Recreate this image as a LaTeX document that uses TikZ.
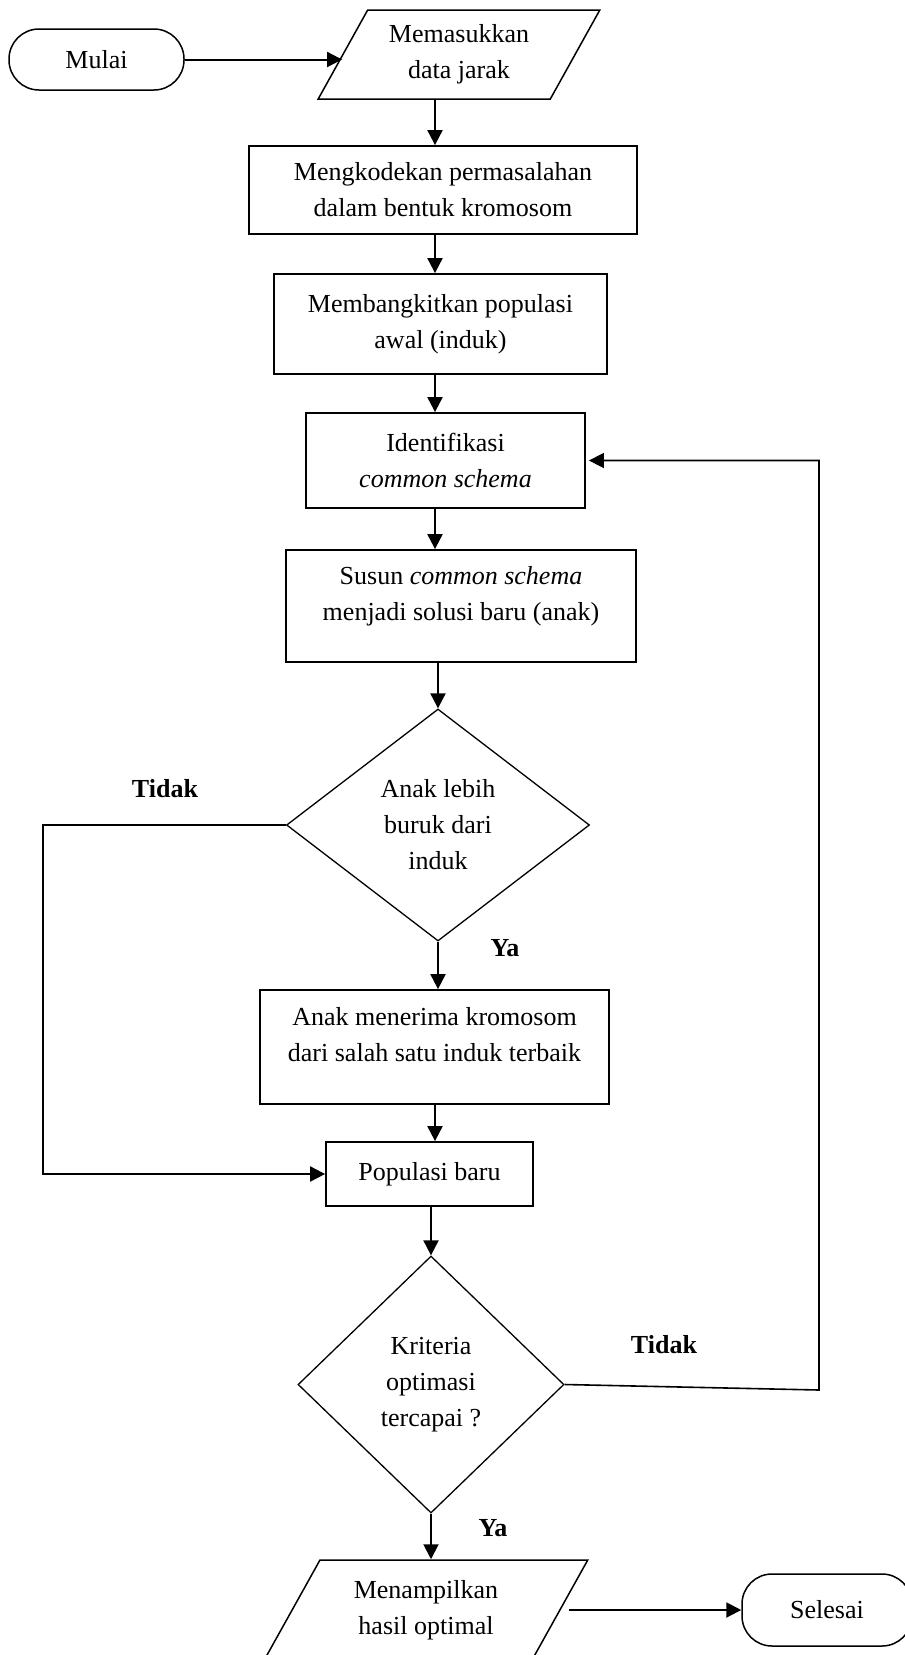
\documentclass[tikz,border=0pt]{standalone}
\usepackage{fontspec}
\setmainfont{Liberation Serif}
\usetikzlibrary{shapes.geometric,arrows.meta}

\begin{document}
\begin{tikzpicture}[x=1pt, y=-1pt, font=\fontsize{26}{36}\selectfont,
        term/.style = {draw, rectangle, rounded corners=30pt, line width=1.5pt, minimum width=175pt, minimum height=61pt},
        proc/.style = {draw, rectangle, align=center, line width=1.8pt, inner sep=0pt},
        io/.style = {draw, trapezium, trapezium left angle=57.5, trapezium right angle=122.5, trapezium stretches=true, align=center, line width=1.5pt, inner sep=0pt},
        decide/.style = {draw, diamond, align=center, line width=1.3pt, inner sep=0pt},
        arr/.style = {-{Triangle[length=15pt,width=15pt]}, line width=2pt},
        jawab/.style = {font=\fontsize{26}{36}\selectfont\bfseries}]
    \useasboundingbox (0,0) rectangle (905,1655);
    \node[term] (mulai) at (96.5,59.5) {Mulai};
    \node[io, minimum width=282pt, minimum height=89pt] (masuk) at (459,54.5) {Memasukkan\\data jarak};
    \node[proc, minimum width=388pt, minimum height=88pt] (kode) at (443,190) {Mengkodekan permasalahan\\dalam bentuk kromosom};
    \node[proc, minimum width=333pt, minimum height=100pt] (bangkit) at (440.5,324) {Membangkitkan populasi\\awal (induk)};
    \node[proc, minimum width=279pt, minimum height=95pt] (identif) at (445.5,460.5) {Identifikasi\\\textit{common schema}};
    \node[proc, minimum width=350pt, minimum height=112pt] (susun) at (461,606) {Susun \textit{common schema}\\menjadi solusi baru (anak)\\[-10pt]\mbox{}};
    \node[decide, minimum width=303pt, minimum height=232pt] (cek) at (438,825) {Anak lebih\\buruk dari\\induk};
    \node[proc, minimum width=349pt, minimum height=114pt] (terima) at (434.5,1047) {Anak menerima kromosom\\dari salah satu induk terbaik\\[-10pt]\mbox{}};
    \node[proc, minimum width=207pt, minimum height=64pt] (popbaru) at (429.5,1174) {Populasi baru};
    \node[decide, minimum width=266pt, minimum height=257pt] (kriteria) at (431,1384.5) {Kriteria\\optimasi\\tercapai ?};
    \node[io, minimum width=324pt, minimum height=100pt] (tampil) at (426,1610) {Menampilkan\\hasil optimal};
    \node[term, minimum width=170pt, minimum height=72pt] (selesai) at (827,1610) {Selesai};

    \node[jawab] (tidak1) at (165,789) {Tidak};
    \node[jawab] (ya1) at (505,948) {Ya};
    \node[jawab] (tidak2) at (664,1345) {Tidak};
    \node[jawab] (ya2) at (493,1528) {Ya};

    \coordinate (ax) at (435,0);
    \coordinate (kiri) at (43,0);
    \coordinate (kanan) at (819,1390);

    \draw[arr] (mulai.east) -- (mulai.east -| masuk.west);
    \draw[arr] (masuk.south -| ax) -- (kode.north -| ax);
    \draw[arr] (kode.south -| ax) -- (bangkit.north -| ax);
    \draw[arr] (bangkit.south -| ax) -- (identif.north -| ax);
    \draw[arr] (identif.south -| ax) -- (susun.north -| ax);
    \draw[arr] (susun.south -| cek) -- (cek.north);
    \draw[arr] (cek.south) -- (cek.south |- terima.north);
    \draw[arr] (terima.south -| ax) -- (popbaru.north -| ax);
    \draw[arr] (popbaru.south -| kriteria) -- (kriteria.north);
    \draw[arr] (kriteria.south) -- (kriteria.south |- tampil.north);
    \draw[arr, shorten <=8pt] (tampil.east) -- (tampil.east -| selesai.west);
    \draw[arr] (cek.west) -- (cek.west -| kiri) |- (popbaru.west);
    \draw[arr, line width=1.6pt, shorten >=3pt] (kriteria.east) -- (kanan) |- (identif.east);
\end{tikzpicture}
\end{document}
